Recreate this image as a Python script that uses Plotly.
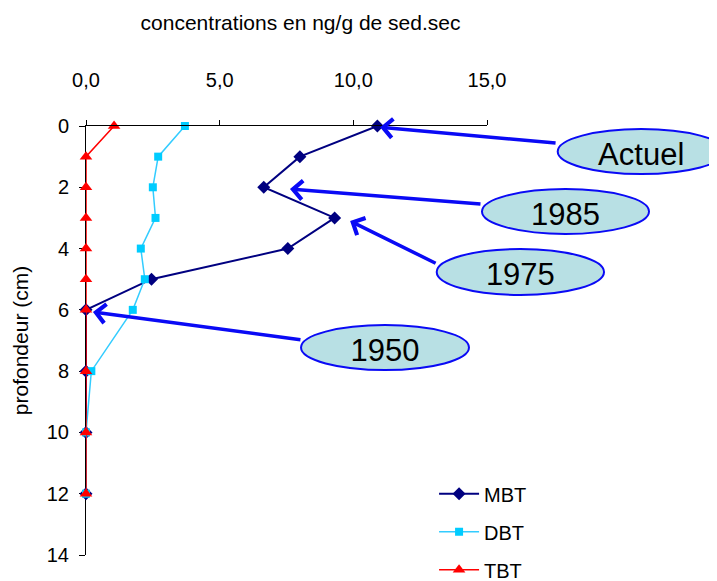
import plotly.graph_objects as go

depth = [0, 1, 2, 3, 4, 5, 6, 8, 10, 12]
mbt = [10.9, 8.0, 6.65, 9.3, 7.55, 2.45, 0.0, 0.0, 0.0, 0.0]
dbt = [3.7, 2.7, 2.5, 2.6, 2.05, 2.2, 1.75, 0.2, 0.0, 0.0]
tbt = [1.05, 0.0, 0.0, 0.0, 0.0, 0.0, 0.0, 0.0, 0.0, 0.0]

x_ticks = [0, 5, 10, 15]
y_ticks = [0, 2, 4, 6, 8, 10, 12, 14]

labels = ["Actuel", "1985", "1975", "1950"]
label_tip_x = [11.0, 7.63, 9.88, 0.26]
label_tip_y = [0.04, 2.06, 3.10, 6.07]

FONT = "Liberation Sans, Arial, sans-serif"

fig = go.Figure()
fig.add_trace(go.Scatter(x=mbt, y=depth, name="MBT", mode="lines+markers",
                         line=dict(color="#000080", width=2),
                         marker=dict(symbol="diamond", size=10, color="#000080"),
                         cliponaxis=False, legendgroup="a"))
fig.add_trace(go.Scatter(x=dbt, y=depth, name="DBT", mode="lines+markers",
                         line=dict(color="#33CCFF", width=1.5),
                         marker=dict(symbol="square", size=8, color="#00CCFF"),
                         cliponaxis=False, legendgroup="b"))
fig.add_trace(go.Scatter(x=tbt, y=depth, name="TBT", mode="lines+markers",
                         line=dict(color="#FF0000", width=1.5),
                         marker=dict(symbol="triangle-up", size=11, color="#FF0000"),
                         cliponaxis=False, legendgroup="c"))

# ellipses (paper coordinates) with labels
ell = [
    (1.1763, 0.8881, 1.5928, 0.993),
    (0.9875, 0.7483, 1.404, 0.8531),
    (0.8746, 0.6061, 1.2918, 0.7133),
    (0.5362, 0.4312, 0.9551, 0.5361),
]
# arrow tails offsets in pixels (from tip)
tails = [(177, 16), (192, 15), (87, 43), (209, 28)]

for lab, tx, ty, (x0, y0, x1, y1), (ax, ay) in zip(labels, label_tip_x, label_tip_y, ell, tails):
    fig.add_annotation(x=tx, y=ty, xref="x", yref="y", text="", showarrow=True,
                       ax=ax, ay=ay, axref="pixel", ayref="pixel",
                       arrowhead=4, arrowsize=1.05, arrowwidth=3.5, arrowcolor="#0A0AF5",
                       standoff=0, startstandoff=0)
    fig.add_shape(type="circle", xref="paper", yref="paper", x0=x0, y0=y0, x1=x1, y1=y1,
                  fillcolor="#B8E0E4", line=dict(color="#0A0AF5", width=2), layer="above",
                  label=dict(text=lab, font=dict(family=FONT, size=31, color="black")))

fig.update_layout(
    width=709, height=573,
    margin=dict(l=78, r=230, t=118, b=26, autoexpand=False),
    paper_bgcolor="white", plot_bgcolor="white",
    separators=", ",
    font=dict(family=FONT, size=20, color="black"),
    title=dict(text="concentrations en ng/g de sed.sec", x=0.535, xref="paper", xanchor="center",
               y=1 - 15 / 573, yref="container", yanchor="middle",
               font=dict(family=FONT, size=21, color="black")),
    showlegend=True,
    legend=dict(x=0.868, y=0.188, xanchor="left", yanchor="top", bgcolor="rgba(0,0,0,0)",
                font=dict(family=FONT, size=20, color="black"), itemwidth=40,
                tracegroupgap=9, traceorder="grouped"),
)
fig.update_xaxes(side="top", range=[0, 15], tickvals=x_ticks, tickformat=".1f", automargin=False,
                 showgrid=False, zeroline=False, showline=True, linecolor="black", linewidth=1,
                 ticks="outside", ticklen=5, tickcolor="black", ticklabelstandoff=25,
                 tickfont=dict(family=FONT, size=20, color="black"))
fig.update_yaxes(range=[14, 0], tickvals=y_ticks, showgrid=False, zeroline=False, automargin=False,
                 showline=True, linecolor="black", linewidth=1, layer="below traces",
                 ticks="outside", ticklen=6, tickcolor="black", ticklabelstandoff=6,
                 tickfont=dict(family=FONT, size=20, color="black"),
                 title=dict(text="profondeur (cm)", standoff=12,
                            font=dict(family=FONT, size=21, color="black")))

fig.write_html("out.html")
